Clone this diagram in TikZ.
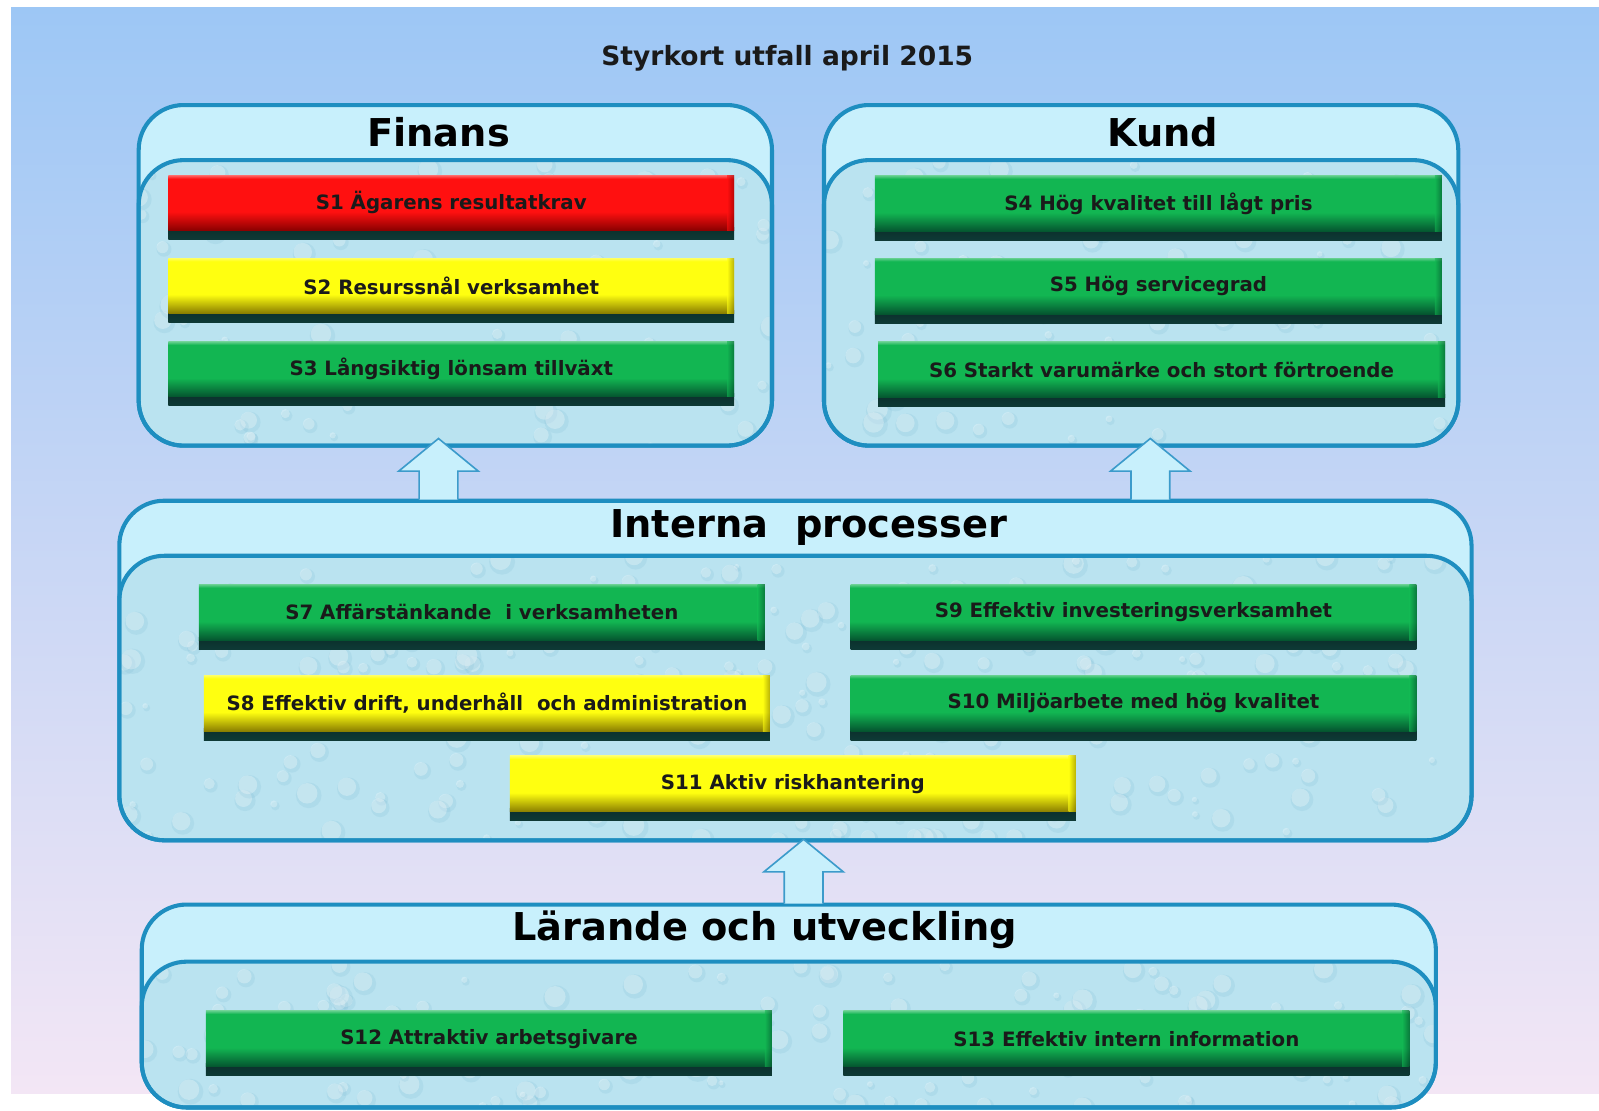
\documentclass[tikz,border=0pt]{standalone}
\usepackage{fontspec}
\setmainfont{DejaVu Sans}
\usetikzlibrary{calc}
\definecolor{bgtop}{HTML}{9DC7F5}
\definecolor{bgmid}{HTML}{C6D6EC}
\definecolor{bgbot}{HTML}{F3E6F5}
\definecolor{framec}{HTML}{1E8EC0}
\definecolor{band}{HTML}{C8F0FC}
\definecolor{water}{HTML}{BAE3F0}
\definecolor{dropc}{HTML}{6AAFCC}
\definecolor{arrowc}{HTML}{3C9BCB}
\definecolor{shadowc}{HTML}{0E3A36}
\definecolor{txtc}{HTML}{1A1A1A}
\definecolor{redA}{HTML}{FF1010}
\definecolor{redB}{HTML}{8A0000}
\definecolor{yellowA}{HTML}{FFFF10}
\definecolor{yellowB}{HTML}{8A7E00}
\definecolor{greenA}{HTML}{12B652}
\definecolor{greenB}{HTML}{04542F}
\pgfdeclareverticalshading{redbar}{100bp}{color(0bp)=(redB); color(25bp)=(redB); color(42bp)=(redA); color(72bp)=(redA); color(75bp)=(redA!65!white); color(100bp)=(redA!65!white)}
\pgfdeclareverticalshading{yellowbar}{100bp}{color(0bp)=(yellowB); color(25bp)=(yellowB); color(42bp)=(yellowA); color(72bp)=(yellowA); color(75bp)=(yellowA!65!white); color(100bp)=(yellowA!65!white)}
\pgfdeclareverticalshading{greenbar}{100bp}{color(0bp)=(greenB); color(25bp)=(greenB); color(42bp)=(greenA); color(72bp)=(greenA); color(75bp)=(greenA!65!white); color(100bp)=(greenA!65!white)}
\tikzset{
  sbarsty/.style={inner sep=0pt, font=\fontsize{9.7}{10}\selectfont\bfseries, text=txtc},
  heading/.style={font=\fontsize{18.8}{20}\selectfont\bfseries, text=black, inner sep=0pt},
  frameline/.style={draw=framec, line width=2pt},
  blockarrow/.style={fill=band, draw=arrowc, line width=0.8pt, line join=miter},
}
% panel: name, x1, y1, yinner, x2, y2, droplets
\newcommand\panel[7]{%
  \coordinate (#1-nw) at (#2,#3);
  \coordinate (#1-se) at (#5,#6);
  \fill[band, rounded corners=22pt] (#2,#3) rectangle (#5,#6);
  \fill[water, rounded corners=22pt] (#2,#4) rectangle (#5,#6);
  \begin{scope}
    \clip[rounded corners=22pt] (#2,#4) rectangle (#5,#6);
    \foreach \k in {1,...,#7}{
      \pgfmathsetmacro\px{#2+rnd*(#5-#2)}
      \pgfmathsetmacro\py{#4+rnd*(#6-#4)}
      \pgfmathsetmacro\pr{3+rnd*10}
      \fill[dropc, opacity=.14] (\px+1.5,\py+2) circle[radius=\pr];
      \fill[white, opacity=.28] (\px,\py) circle[radius=\pr*0.8];
    }
  \end{scope}
  \draw[frameline, rounded corners=22pt] (#2,#4) rectangle (#5,#6);
  \draw[frameline, rounded corners=22pt] (#2,#3) rectangle (#5,#6);
}
% bar: name, x1, y1, x2, y2 (coloured bottom), colour, text
\newcommand\sbar[7]{%
  \pgfmathsetmacro\bw{(#4-#2)*0.5}%
  \pgfmathsetmacro\bh{(#5-#3)*0.5}%
  \shade[top color=shadowc!80!black, bottom color=shadowc] (#2,#5-3) rectangle (#4,#5+9);
  \node[sbarsty, shading=#6bar,
        minimum width=\bw pt, minimum height=\bh pt] (#1) at ({(#2+#4)/2},{(#3+#5)/2}) {#7};
  \shade[left color=#6A, right color=#6B, opacity=.6] (#4-7,#3) rectangle (#4,#5);
}
% block arrow: name, x centre, y tip, y bottom
\newcommand\blockup[4]{%
  \coordinate (#1) at (#2,#3);
  \filldraw[blockarrow] ($(#1)+(-19,#4-#3)$) -- ($(#1)+(-19,32)$) -- ($(#1)+(-39,32)$)
     -- (#1) -- ($(#1)+(39,32)$) -- ($(#1)+(19,32)$) -- ($(#1)+(19,#4-#3)$);
}
\begin{document}
\begin{tikzpicture}[x=0.5pt,y=-0.5pt]
\useasboundingbox (0,0) rectangle (1568,1088.5);
\fill[white] (0,0) rectangle (1568,1088.5);
\shade[top color=bgtop, middle color=bgmid, bottom color=bgbot] (10.8,6.9) rectangle (1568,1072);
\pgfmathsetseed{7}

\node[font=\fontsize{13}{14}\selectfont\bfseries, text=txtc] (title) at (772,57) {Styrkort utfall april 2015};

\panel{fin}{136}{103}{157}{757}{437}{90}
\panel{kund}{808}{103}{157}{1430}{437}{90}
\panel{int}{117}{491}{545}{1443}{824}{260}
\panel{lar}{139}{887}{943}{1408}{1086}{140}

\node[heading] (hfin) at (430,130) {Finans};
\node[heading] (hkund) at (1140,130) {Kund};
\node[heading] (hint) at (793,517) {Interna\ \ processer};
\node[heading] (hlar) at (750,912) {Lärande och utveckling};

\sbar{s1}{165}{172}{720}{226}{red}{S1 Ägarens resultatkrav}
\sbar{s2}{165}{253}{720}{307}{yellow}{S2 Resurssnål verksamhet}
\sbar{s3}{165}{335}{720}{389}{green}{S3 Långsiktig lönsam tillväxt}
\sbar{s4}{858}{172}{1414}{227}{green}{S4 Hög kvalitet till lågt pris}
\sbar{s5}{858}{253}{1414}{308}{green}{S5 Hög servicegrad}
\sbar{s6}{861}{335}{1417}{390}{green}{S6 Starkt varumärke och stort förtroende}
\sbar{s7}{195}{573}{750}{628}{green}{S7 Affärstänkande\ \ i verksamheten}
\sbar{s9}{834}{573}{1389}{628}{green}{S9 Effektiv investeringsverksamhet}
\sbar{s8}{200}{662}{755}{717}{yellow}{S8 Effektiv drift, underhåll\ \ och administration}
\sbar{s10}{834}{662}{1389}{717}{green}{S10 Miljöarbete med hög kvalitet}
\sbar{s11}{500}{741}{1055}{796}{yellow}{S11 Aktiv riskhantering}
\sbar{s12}{202}{991}{757}{1046}{green}{S12 Attraktiv arbetsgivare}
\sbar{s13}{827}{991}{1382}{1046}{green}{S13 Effektiv intern information}

\blockup{a1}{430}{430}{490}
\blockup{a2}{1128}{430}{490}
\blockup{a3}{788}{823}{886}
\end{tikzpicture}
\end{document}
